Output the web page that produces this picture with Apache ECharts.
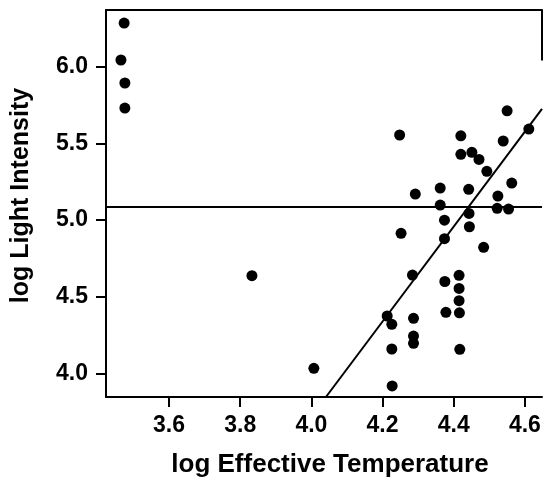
<!DOCTYPE html>
<html>
<head>
<meta charset="utf-8">
<script src="https://cdn.jsdelivr.net/npm/echarts@6/dist/echarts.min.js"></script>
<style>
html,body{margin:0;padding:0;background:#fff;}
#chart{width:544px;height:483px;}
</style>
</head>
<body>
<div id="chart"></div>
<script>
// ---- data ----
var xValues = [3.474,3.465,3.476,3.476,3.833,4.007,4.550,4.248,4.420,4.611,4.539,4.420,4.451,4.471,4.493,4.563,4.292,4.362,4.442,4.524,4.362,4.522,4.554,4.443,4.374,4.444,4.252,4.374,4.484,4.284,4.375,4.415,4.415,4.415,4.378,4.416,4.213,4.226,4.287,4.287,4.287,4.226,4.417,4.227];
var yValues = [6.285,6.044,5.894,5.731,4.638,4.034,5.713,5.555,5.550,5.594,5.516,5.429,5.442,5.396,5.318,5.242,5.170,5.209,5.201,5.157,5.098,5.077,5.072,5.044,5.000,4.957,4.914,4.879,4.823,4.642,4.600,4.640,4.555,4.475,4.399,4.396,4.375,4.321,4.360,4.244,4.197,4.160,4.158,3.919];
var xTicks = [3.6,3.8,4.0,4.2,4.4,4.6];
var yTicks = [4.0,4.5,5.0,5.5,6.0];
var fitX = [4.041,4.648];
var fitY = [3.847,5.725];
var refLevel = 5.085;
var xTitle = 'log Effective Temperature';
var yTitle = 'log Light Intensity';

var xMin = 3.423, xMax = 4.648, yMin = 3.847, yMax = 6.370;

var points = xValues.map(function(x,i){return [x,yValues[i]];});
var fitLine = fitX.map(function(x,i){return [x,fitY[i]];});

var font = "'Liberation Sans', Arial, Helvetica, sans-serif";
var chart = echarts.init(document.getElementById('chart'), null, {renderer:'canvas'});
chart.setOption({
  animation:false,
  backgroundColor:'#fff',
  grid:{left:106,right:2,top:10,bottom:86,containLabel:false},
  xAxis:[{
    type:'value',min:xMin,max:xMax,position:'bottom',
    name:xTitle,nameLocation:'middle',nameGap:55,
    nameTextStyle:{fontFamily:font,fontWeight:'bold',fontSize:26,color:'#000',padding:[0,0,0,12]},
    axisLine:{show:true,onZero:false,lineStyle:{color:'#000',width:2}},
    axisTick:{show:true,inside:false,length:10,lineStyle:{color:'#000',width:2},customValues:xTicks},
    axisLabel:{show:true,margin:17,fontFamily:font,fontWeight:'bold',fontSize:23,color:'#000',customValues:xTicks,
      formatter:function(v){return v.toFixed(1);}},
    splitLine:{show:false}
  },{
    type:'value',min:xMin,max:xMax,position:'top',
    axisLine:{show:true,onZero:false,lineStyle:{color:'#000',width:2}},
    axisTick:{show:false},axisLabel:{show:false},splitLine:{show:false}
  }],
  yAxis:[{
    type:'value',min:yMin,max:yMax,position:'left',
    name:yTitle,nameLocation:'middle',nameGap:72,nameRotate:90,
    nameTextStyle:{fontFamily:font,fontWeight:'bold',fontSize:25,color:'#000',padding:[0,0,0,16]},
    axisLine:{show:true,onZero:false,lineStyle:{color:'#000',width:2}},
    axisTick:{show:true,inside:false,length:10,lineStyle:{color:'#000',width:2},customValues:yTicks},
    axisLabel:{show:true,margin:18,fontFamily:font,fontWeight:'bold',fontSize:23,color:'#000',customValues:yTicks,
      formatter:function(v){return v.toFixed(1);}},
    splitLine:{show:false}
  }],
  series:[{
    type:'scatter',
    data:points,
    symbol:'circle',symbolSize:11,
    itemStyle:{color:'#000',opacity:1},
    z:3
  },{
    type:'line',
    data:fitLine,
    symbol:'none',
    lineStyle:{color:'#000',width:2},
    clip:true,
    z:2
  },{
    type:'line',
    data:[[xMin,refLevel],[xMax,refLevel]],
    symbol:'none',
    lineStyle:{color:'#000',width:2},
    z:2
  },{
    type:'line',
    data:[[xMax,yMax],[xMax,6.04]],
    symbol:'none',
    lineStyle:{color:'#000',width:2},
    z:2
  }]
});
</script>
</body>
</html>
